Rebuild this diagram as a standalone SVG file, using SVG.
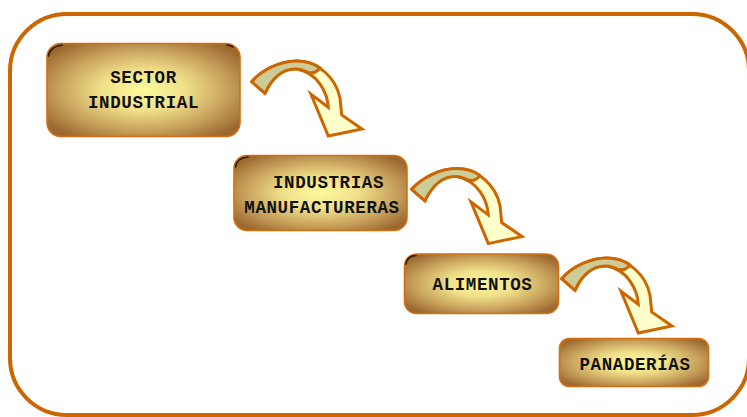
<svg xmlns="http://www.w3.org/2000/svg" xmlns:xlink="http://www.w3.org/1999/xlink" width="747" height="417" viewBox="0 0 747 417">
  <defs>
    <radialGradient id="boxFill" cx="0.5" cy="0.5" r="0.62">
      <stop offset="0" stop-color="#FCFA9C"/>
      <stop offset="0.35" stop-color="#F0E08A"/>
      <stop offset="0.7" stop-color="#C8A25C"/>
      <stop offset="1" stop-color="#9C6830"/>
    </radialGradient>
    <!-- curved arrow: light front band + darker back band -->
    <g id="curvedArrow">
      <path class="arrow-front" d="M 251.7 81.7 C 262 70, 280 61, 297 61 C 318 61, 336 78, 340 98 L 341.7 115 L 362 129 L 328.3 136 L 311 94.3 L 328.3 107.3 C 327.5 93, 318 73, 297 69 C 283 68, 272 78, 265 93.3 Z"/>
      <path class="arrow-back" d="M 251.7 81.7 C 262 70, 280 61, 297 61 C 306 61, 314 63.5, 320 68 C 316 73, 311 74, 306 71.5 C 301 69.5, 299 69, 297 69 C 283 68, 272 78, 265 93.3 Z"/>
    </g>
  </defs>
  <style>
    .frame { fill: none; stroke: #CC6600; stroke-width: 4; }
    .box { fill: url(#boxFill); stroke: #D2700F; stroke-width: 1.6; }
    .corner { fill: none; stroke: #2A1A0A; stroke-width: 1.6; stroke-linecap: round; }
    .label { font-family: "Liberation Mono", "Courier New", monospace; font-weight: bold; font-size: 17.5px; letter-spacing: 0.6px; fill: #111; text-anchor: middle; }
    .arrow-front { fill: #FFFFCC; stroke: #CC6600; stroke-width: 3; stroke-linejoin: miter; }
    .arrow-back { fill: #CCCC99; stroke: #CC6600; stroke-width: 3; stroke-linejoin: round; }
  </style>

  <rect class="frame" x="10" y="14" width="739" height="401" rx="57" ry="57"/>

  <g id="connectors">
    <use xlink:href="#curvedArrow"/>
    <use xlink:href="#curvedArrow" transform="translate(160 107.6)"/>
    <use xlink:href="#curvedArrow" transform="translate(310 197)"/>
  </g>

  <g id="sector-industrial">
    <rect class="box" x="47" y="43.5" width="193" height="93" rx="14"/>
    <path class="corner" d="M 48.5 56 Q 49.5 47 62 45"/>
    <path class="corner" d="M 227 45 Q 231 45.5 233 47"/>
    <text class="label" x="143.5" y="83">SECTOR</text>
    <text class="label" x="143.5" y="108">INDUSTRIAL</text>
  </g>

  <g id="industrias-manufactureras">
    <rect class="box" x="234" y="155.5" width="173" height="75" rx="13"/>
    <path class="corner" d="M 235.5 167 Q 236.5 158 248 157"/>
    <text class="label" x="328.5" y="188">INDUSTRIAS</text>
    <text class="label" x="322" y="213">MANUFACTURERAS</text>
  </g>

  <g id="alimentos">
    <rect class="box" x="404.5" y="254" width="154" height="59.5" rx="12"/>
    <path class="corner" d="M 406 264 Q 407 256 416 255.5"/>
    <text class="label" x="482.5" y="290">ALIMENTOS</text>
  </g>

  <g id="panaderias">
    <rect class="box" x="559.5" y="338.5" width="149" height="48" rx="10"/>
    <text class="label" x="635" y="370">PANADERÍAS</text>
  </g>
</svg>
